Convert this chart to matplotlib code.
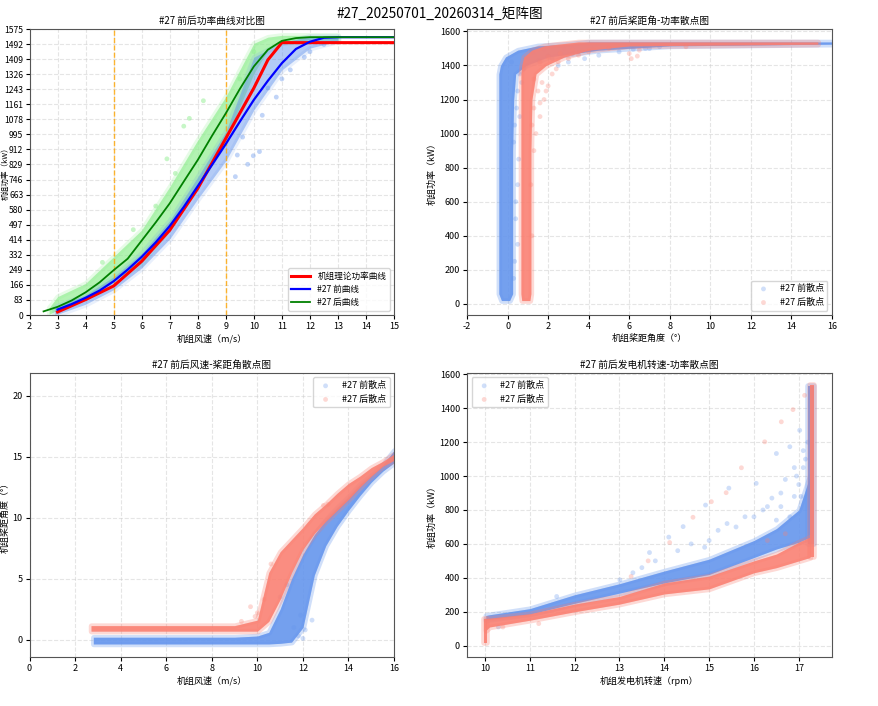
import matplotlib
matplotlib.use('Agg')
import matplotlib.pyplot as plt

plt.rcParams['font.family'] = ['Noto Sans CJK SC', 'DejaVu Sans']
plt.rcParams['axes.unicode_minus'] = False

BLUE = 'cornflowerblue'
RED = 'salmon'
GREEN = 'lightgreen'

# ---- 功率曲线 (风速 m/s, 功率 kW) ----
theory_ws = [3, 4, 5, 6, 7, 8, 9, 10, 10.5, 11, 12, 13, 14, 15]
theory_p = [17, 85, 160, 296, 467, 697, 973, 1250, 1405, 1500, 1500, 1500, 1500, 1500]
before_ws = [3, 3.5, 4, 4.5, 5, 5.5, 6, 6.5, 7, 7.5, 8, 8.5, 9, 9.5, 10, 10.5, 11, 11.5, 12, 12.5, 13, 14, 15]
before_p = [30, 60, 95, 135, 186, 250, 320, 400, 490, 595, 710, 825, 942, 1065, 1185, 1290, 1387, 1465, 1505, 1527, 1530, 1530, 1530]
after_ws = [2.5, 3, 3.5, 4, 4.5, 5, 5.5, 6, 6.5, 7, 7.5, 8, 8.5, 9, 9.5, 10, 10.5, 11, 11.5, 12, 13, 14, 15]
after_p = [20, 45, 80, 125, 180, 247, 310, 410, 510, 615, 735, 854, 985, 1111, 1245, 1369, 1461, 1510, 1525, 1530, 1530, 1530, 1530]
# 散点云范围
cloud_b_ws = [2.9, 3, 4, 5, 6, 7, 8, 9, 10, 11, 12, 13]
cloud_b_lo = [5, 5, 60, 140, 260, 420, 640, 850, 1130, 1350, 1470, 1510]
cloud_b_hi = [40, 50, 110, 210, 340, 520, 760, 1010, 1420, 1500, 1535, 1535]
cloud_g_ws = [2.7, 3, 4, 5, 6, 7, 8, 9, 10, 10.5, 11, 12, 13]
cloud_g_lo = [5, 28, 101, 193, 285, 486, 725, 963, 1331, 1459, 1500, 1515, 1515]
cloud_g_hi = [40, 101, 174, 321, 468, 706, 963, 1202, 1496, 1530, 1540, 1540, 1540]
out_b_ws = [9.78, 9.98, 9.34, 9.41, 10.2, 9.6, 10.5, 11.0, 11.3, 10.8, 12.0, 12.5, 11.8, 10.3]
out_b_p = [830, 877, 762, 881, 900, 980, 1250, 1300, 1350, 1200, 1450, 1490, 1420, 1100]
out_g_ws = [7.7, 7.5, 8.2, 6.9, 6.5, 7.2, 5.7, 9.5, 10.0, 4.6]
out_g_p = [1083, 1040, 1180, 860, 600, 780, 470, 1300, 1450, 290]
pw_ticks = [0, 83, 166, 249, 332, 414, 497, 580, 663, 746, 829, 912, 995, 1078, 1161, 1243, 1326, 1409, 1492, 1575]
ref_ws = [5, 9]

# ---- 桨距角-功率 ----
pa_b_y = [20, 60, 300, 600, 900, 1200, 1350, 1400, 1450, 1490, 1515, 1525, 1538]
pa_b_l = [-0.3, -0.43, -0.43, -0.43, -0.43, -0.43, -0.43, -0.35, -0.1, 0.5, 1.5, 3.0, 4.0]
pa_b_r = [0.1, 0.25, 0.25, 0.25, 0.25, 0.3, 0.4, 0.9, 2.0, 4.5, 8.0, 16.0, 16.0]
pa_r_y = [20, 60, 300, 600, 900, 1200, 1350, 1400, 1450, 1490, 1515, 1525, 1538]
pa_r_l = [0.7, 0.66, 0.66, 0.66, 0.66, 0.66, 0.66, 0.7, 0.8, 1.2, 1.8, 2.5, 3.5]
pa_r_r = [1.1, 1.15, 1.15, 1.15, 1.15, 1.2, 1.4, 1.9, 2.8, 4.0, 6.0, 15.3, 15.3]
pa_b_pts_x = [0.5, 0.6, 0.3, 0.5, 0.4, 0.8, 1.0, 2.5, 3.0, 4.5, 5.5, 7.0, 1.3, 2.0, 0.7, 0.35,
              6.2, 3.8, 0.2, 1.2, 1.8, 2.8, 3.5, 4.2, 5.0, 0.9, 1.5, 2.2, 3.2, 7.5, 6.8, 0.6,
              0.45, 0.55, 0.4, 0.5, 0.3, 0.35]
pa_b_pts_y = [1250, 1100, 950, 700, 500, 1380, 1440, 1400, 1420, 1460, 1480, 1500, 1470, 1460, 1300, 250,
              1495, 1440, 1420, 1480, 1490, 1495, 1480, 1500, 1505, 1400, 1430, 1440, 1470, 1510, 1500, 1350,
              1150, 850, 600, 350, 150, 1050]
pa_r_pts_x = [1.5, 1.8, 1.3, 1.7, 2.2, 1.4, 2.5, 3.5, 6.5, 6.0, 8.8, 1.6, 2.0, 1.3, 1.6, 2.0,
              2.6, 3.2, 1.9, 1.6, 1.2, 1.3, 2.4, 3.0, 4.0, 5.0, 6.1, 6.4, 1.15, 1.2]
pa_r_pts_y = [1250, 1200, 1150, 1300, 1350, 1000, 1420, 1460, 1490, 1470, 1510, 1100, 1280, 1320, 1420, 1450,
              1470, 1490, 1250, 1180, 1050, 900, 1380, 1440, 1480, 1500, 1440, 1455, 700, 400]

# ---- 风速-桨距角 ----
wp_b_ws = [2.8, 6, 9, 10, 10.5, 11, 11.5, 12, 12.5, 13, 13.5, 14, 14.5, 15, 15.5, 16]
wp_b_lo = [-0.35, -0.35, -0.35, -0.35, -0.35, -0.3, -0.2, 1.0, 5.3, 7.7, 9.3, 10.6, 11.8, 12.9, 13.8, 14.5]
wp_b_hi = [0.2, 0.2, 0.2, 0.3, 0.6, 2.5, 5.0, 7.0, 8.6, 9.8, 10.8, 11.7, 12.7, 13.5, 14.3, 15.5]
wp_r_ws = [2.7, 6, 9, 10, 10.5, 11, 11.5, 12, 12.5, 13, 13.5, 14, 14.5, 15, 15.5, 16]
wp_r_lo = [0.7, 0.7, 0.7, 0.7, 1.5, 3.3, 5.5, 7.4, 8.7, 9.7, 10.6, 11.5, 12.5, 13.4, 14.2, 14.7]
wp_r_hi = [1.15, 1.15, 1.15, 1.6, 5.5, 7.2, 8.2, 9.2, 10.3, 11.1, 12.0, 12.8, 13.4, 14.1, 14.6, 15.2]
wp_b_pts_x = [11.8, 12.4, 11.9, 12.1, 11.6, 11.0, 11.3, 12.0]
wp_b_pts_y = [0.3, 1.6, 2.0, 0.8, 1.0, 3.5, 4.5, 0.1]
wp_r_pts_x = [9.7, 10.0, 12.9, 13.1, 9.3, 10.3, 9.9, 10.6]
wp_r_pts_y = [2.7, 2.2, 11.0, 11.1, 1.5, 3.3, 1.9, 6.2]

# ---- 发电机转速-功率 ----
rp_ws = [10.02, 10.1, 11, 12, 13, 14, 15, 16, 16.5, 17, 17.25]
rp_b_lo = [150, 155, 185, 250, 310, 370, 420, 520, 570, 610, 640]
rp_b_hi = [178, 182, 218, 300, 365, 440, 510, 620, 690, 800, 1000]
rp_r_lo = [90, 110, 150, 200, 245, 305, 335, 430, 460, 500, 520]
rp_r_hi = [160, 162, 188, 245, 290, 370, 410, 500, 540, 610, 640]
rp_b_pts_x = [13.01, 13.67, 14.42, 14.92, 15.44, 16.05, 16.5, 16.8, 17.02, 16.3, 16.6, 16.9, 17.1, 16.0,
              15.6, 14.1, 11.6, 10.3, 17.2, 17.1, 17.0, 16.9, 16.7, 16.4, 16.2, 15.8, 15.4, 15.0, 14.6,
              14.3, 13.8, 13.5, 13.3, 16.6, 17.15, 16.95, 17.05, 16.8, 16.5, 15.2, 14.9]
rp_b_pts_y = [388, 549, 702, 829, 929, 957, 1133, 1173, 1270, 820, 900, 1050, 1150, 760,
              700, 640, 290, 110, 1200, 1050, 950, 880, 980, 870, 800, 760, 720, 620, 600,
              560, 500, 460, 430, 820, 1100, 1000, 880, 760, 740, 680, 580]
rp_r_pts_x = [13.64, 14.12, 14.64, 15.05, 15.72, 16.24, 16.61, 16.87, 17.13, 13.26, 15.38, 11.2, 10.4, 16.3, 16.7]
rp_r_pts_y = [500, 608, 757, 849, 1049, 1202, 1320, 1392, 1476, 408, 902, 130, 110, 620, 660]

fig = plt.figure(figsize=(8.79, 7.06), dpi=100)
fig.suptitle('#27_20250701_20260314_矩阵图', fontsize=9.8, y=0.981, va='center')

FS = 6.5
pos = [[0.0336, 0.5538, 0.4147, 0.4051], [0.5313, 0.5538, 0.4152, 0.4051],
       [0.0336, 0.0694, 0.4147, 0.4023], [0.5313, 0.0694, 0.4152, 0.4023]]
axes = [fig.add_axes(p) for p in pos]
for ax in axes:
    ax.grid(True, linestyle='--', alpha=0.5, color='#cccccc', linewidth=0.8)
    ax.set_axisbelow(True)
    ax.tick_params(labelsize=FS, length=3, pad=2)
    for s in ax.spines.values():
        s.set_color('#555555')


def band(ax, x, lo, hi, color, alpha, vertical=False):
    # soft rim + dense core, to mimic an overlapping scatter cloud
    f = ax.fill_betweenx if vertical else ax.fill_between
    f(x, lo, hi, facecolor=color, edgecolor=color, linewidth=4, alpha=alpha * 0.35)
    f(x, lo, hi, color=color, alpha=alpha, linewidth=0)


# 1. 功率曲线对比
ax = axes[0]
band(ax, cloud_g_ws, cloud_g_lo, cloud_g_hi, GREEN, 0.6)
ax.scatter(out_g_ws, out_g_p, s=12, color=GREEN, alpha=0.5, edgecolors='none')
band(ax, cloud_b_ws, cloud_b_lo, cloud_b_hi, BLUE, 0.4)
ax.scatter(out_b_ws, out_b_p, s=12, color=BLUE, alpha=0.4, edgecolors='none')
for v in ref_ws:
    ax.axvline(v, color='orange', linestyle='--', linewidth=1, alpha=0.8)
ax.plot(theory_ws, theory_p, color='red', linewidth=2.2, label='机组理论功率曲线')
ax.plot(before_ws, before_p, color='blue', linewidth=1.6, label='#27 前曲线')
ax.plot(after_ws, after_p, color='green', linewidth=1.3, label='#27 后曲线')
ax.set_xlim(2, 15)
ax.set_ylim(0, 1575)
ax.set_xticks(range(2, 16))
ax.set_yticks(pw_ticks)
ax.tick_params(axis='y', pad=1.5, labelsize=6.2)
ax.set_title('#27 前后功率曲线对比图', fontsize=7, pad=4)
ax.set_xlabel('机组风速（m/s）', fontsize=FS, labelpad=2)
ax.set_ylabel('机组功率（kW）', fontsize=5.5)
ax.yaxis.set_label_coords(-0.054, 0.5)
ax.legend(loc='lower right', fontsize=6.2, handlelength=2.2)

# 2. 桨距角-功率
ax = axes[1]
band(ax, pa_b_y, pa_b_l, pa_b_r, BLUE, 0.85, vertical=True)
ax.scatter(pa_b_pts_x, pa_b_pts_y, s=12, color=BLUE, alpha=0.3, edgecolors='none', label='#27 前散点')
band(ax, pa_r_y, pa_r_l, pa_r_r, RED, 0.85, vertical=True)
ax.scatter(pa_r_pts_x, pa_r_pts_y, s=12, color=RED, alpha=0.3, edgecolors='none', label='#27 后散点')
ax.set_xlim(-2, 16)
ax.set_ylim(-65, 1614)
ax.set_xticks(range(-2, 17, 2))
ax.set_yticks(range(0, 1601, 200))
ax.set_title('#27 前后桨距角-功率散点图', fontsize=7, pad=4)
ax.set_xlabel('机组桨距角度（°）', fontsize=FS, labelpad=2)
ax.set_ylabel('机组功率（kW）', fontsize=FS, labelpad=2)
ax.legend(loc='lower right', fontsize=FS)

# 3. 风速-桨距角
ax = axes[2]
band(ax, wp_b_ws, wp_b_lo, wp_b_hi, BLUE, 0.85)
ax.scatter(wp_b_pts_x, wp_b_pts_y, s=12, color=BLUE, alpha=0.3, edgecolors='none', label='#27 前散点')
band(ax, wp_r_ws, wp_r_lo, wp_r_hi, RED, 0.85)
ax.scatter(wp_r_pts_x, wp_r_pts_y, s=12, color=RED, alpha=0.3, edgecolors='none', label='#27 后散点')
ax.set_xlim(0, 16)
ax.set_ylim(-1.42, 21.85)
ax.set_xticks(range(0, 17, 2))
ax.set_yticks([0, 5, 10, 15, 20])
ax.set_title('#27 前后风速-桨距角散点图', fontsize=7, pad=4)
ax.set_xlabel('机组风速（m/s）', fontsize=FS, labelpad=2)
ax.set_ylabel('机组桨距角度（°）', fontsize=FS, labelpad=2)
ax.legend(loc='upper right', fontsize=FS)

# 4. 发电机转速-功率
ax = axes[3]
band(ax, rp_ws, rp_b_lo, rp_b_hi, BLUE, 0.85)
band(ax, [600, 1530], [17.2, 17.2], [17.33, 17.33], BLUE, 0.85, vertical=True)
ax.scatter(rp_b_pts_x, rp_b_pts_y, s=12, color=BLUE, alpha=0.3, edgecolors='none', label='#27 前散点')
band(ax, rp_ws, rp_r_lo, rp_r_hi, RED, 0.85)
band(ax, [15, 160], [9.98, 9.98], [10.04, 10.04], RED, 0.85, vertical=True)
band(ax, [520, 1535], [17.24, 17.24], [17.35, 17.35], RED, 0.85, vertical=True)
ax.scatter(rp_r_pts_x, rp_r_pts_y, s=12, color=RED, alpha=0.3, edgecolors='none', label='#27 后散点')
ax.set_xlim(9.6, 17.74)
ax.set_ylim(-67, 1608)
ax.set_xticks(range(10, 18))
ax.set_yticks(range(0, 1601, 200))
ax.set_title('#27 前后发电机转速-功率散点图', fontsize=7, pad=4)
ax.set_xlabel('机组发电机转速（rpm）', fontsize=FS, labelpad=2)
ax.set_ylabel('机组功率（kW）', fontsize=FS, labelpad=2)
ax.legend(loc='upper left', fontsize=FS)

fig.savefig('out.png', dpi=100)
